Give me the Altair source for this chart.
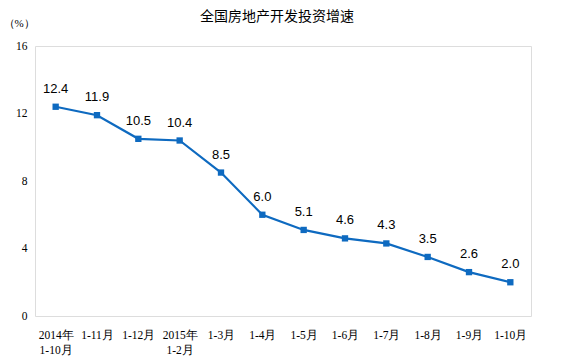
import altair as alt
import pandas as pd

title_text = "全国房地产开发投资增速"
categories = ["2014年|1-10月", "1-11月", "1-12月", "2015年|1-2月", "1-3月", "1-4月",
              "1-5月", "1-6月", "1-7月", "1-8月", "1-9月", "1-10月"]
keys = [f"{i:02d}" for i in range(len(categories))]
values = [12.4, 11.9, 10.5, 10.4, 8.5, 6.0, 5.1, 4.6, 4.3, 3.5, 2.6, 2.0]
y_ticks = [0, 4, 8, 12, 16]

df = pd.DataFrame({"key": keys, "cat": categories, "value": values})
label_map = "{" + ",".join(f"'{k}':'{c}'" for k, c in zip(keys, categories)) + "}"

x_enc = alt.X("key:N", sort=keys, scale=alt.Scale(paddingInner=0, paddingOuter=0, align=0.5),
              axis=alt.Axis(title=None, labelAngle=0, ticks=False, domain=False,
                            labelExpr=f"split({label_map}[datum.value], '|')",
                            labelFont="Liberation Serif", labelFontSize=11.5, labelColor="#000000",
                            labelPadding=13, labelLineHeight=15, labelBaseline="top"))
y_enc = alt.Y("value:Q", scale=alt.Scale(domain=[0, 16], nice=False),
              axis=alt.Axis(values=y_ticks, grid=False, ticks=False, domain=False,
                            labelFont="Liberation Serif", labelFontSize=11.5, labelColor="#000000",
                            labelPadding=8, title="（%）", titleAngle=0, titleX=-32, titleY=-23,
                            titleAlign="left", titleBaseline="middle", titleFont="Liberation Serif",
                            titleFontSize=11, titleFontWeight="normal", titleColor="#000000"))

base = alt.Chart(df).encode(x=x_enc, y=y_enc)
line = base.mark_line(color="#0E6AC0", strokeWidth=2.2)
pts = base.mark_point(shape="square", filled=True, size=40, color="#0E6AC0", opacity=1)
labels = base.mark_text(dy=-18, font="Liberation Sans", fontSize=13, color="#000000").encode(
    text=alt.Text("value:Q", format=".1f"))
title = alt.Chart(pd.DataFrame({"t": [title_text]})).mark_text(
    font="Noto Sans CJK SC", fontSize=14, color="#000000", align="center", baseline="middle"
).encode(text="t:N", x=alt.value(242), y=alt.value(-29))

chart = alt.layer(line, pts, labels, title).properties(
    width=496, height=270,
    autosize=alt.AutoSizeParams(type="none"),
    padding={"left": 27, "top": 38, "right": 20, "bottom": 45},
).configure_view(stroke="#BFBFBF", strokeWidth=1.5).configure(background="white")

chart.save("out.html", embed_options={"renderer": "svg", "actions": False})
